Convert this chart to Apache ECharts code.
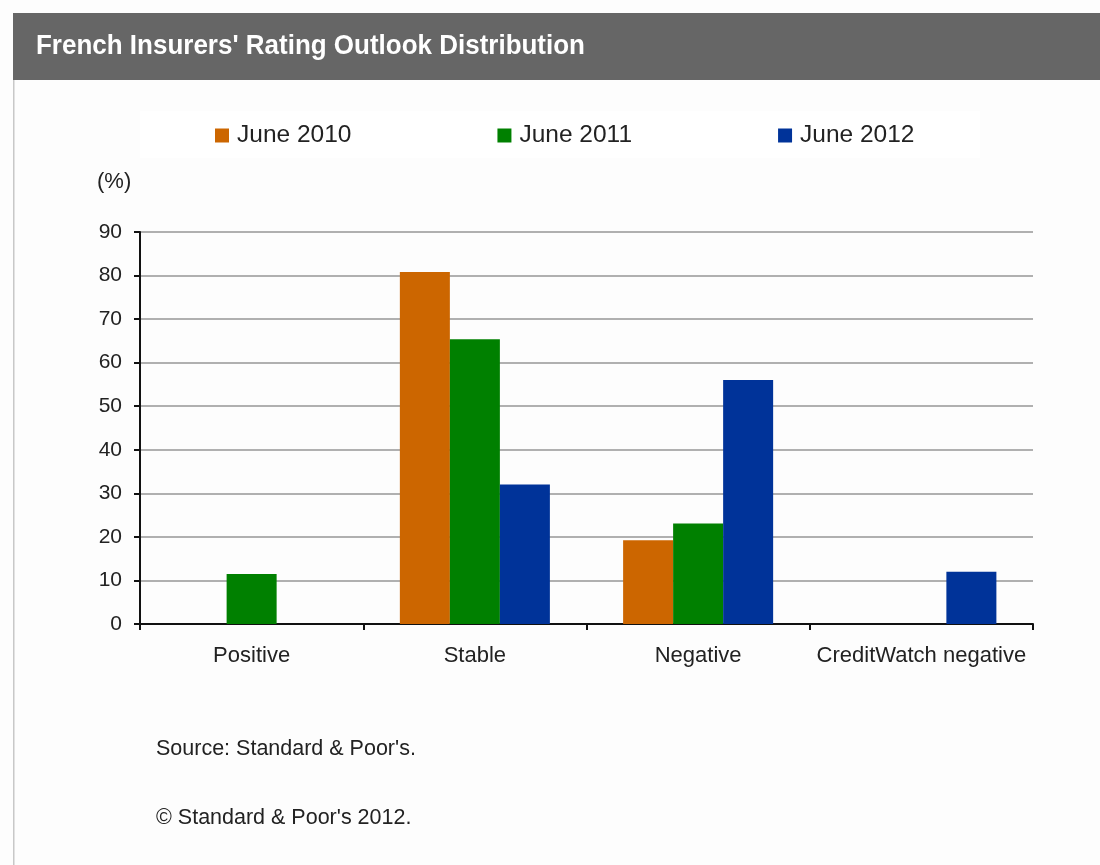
<!DOCTYPE html>
<html>
<head>
<meta charset="utf-8">
<script src="https://cdn.jsdelivr.net/npm/echarts@6/dist/echarts.min.js"></script>
<style>
html,body{margin:0;padding:0;background:#fdfdfd;}
#chart{width:1100px;height:865px;}
</style>
</head>
<body>
<div id="chart"></div>
<script>
const categories = ['Positive', 'Stable', 'Negative', 'CreditWatch negative'];
const june2010 = [null, 80.8, 19.2, null];
const june2011 = [11.5, 65.4, 23.1, null];
const june2012 = [null, 32, 56, 12];
const seriesNames = ['June 2010', 'June 2011', 'June 2012'];
const seriesColors = ['#CC6600', '#008000', '#003399'];
const yTicks = { min: 0, max: 90, interval: 10 };
const titleText = "French Insurers' Rating Outlook Distribution";
const unitText = '(%)';
const sourceText = "Source: Standard & Poor's.";
const copyrightText = "\u00A9 Standard & Poor's 2012.";

const FONT = "'Liberation Sans', Arial, sans-serif";
const chart = echarts.init(document.getElementById('chart'), null, { renderer: 'canvas' });
const dataSets = [june2010, june2011, june2012];

chart.setOption({
  backgroundColor: '#fdfdfd',
  animation: false,
  graphic: [
    { type: 'rect', shape: { x: 13, y: 13, width: 1100, height: 67 }, style: { fill: '#666666' }, z: 0 },
    { type: 'rect', shape: { x: 13, y: 80, width: 1.5, height: 800 }, style: { fill: '#c8c8c8' }, z: 0 },
    { type: 'rect', shape: { x: 140, y: 111, width: 840, height: 47 }, style: { fill: '#ffffff' }, z: 0 },
    { type: 'text', x: 36, y: 32, scaleX: 0.928, style: { text: titleText, fill: '#ffffff', font: "bold 28px " + FONT }, z: 5 },
    { type: 'text', left: 97, top: 171, style: { text: unitText, fill: '#222', font: '22px ' + FONT }, z: 5 },
    { type: 'text', left: 156, top: 738, style: { text: sourceText, fill: '#222', font: '21.5px ' + FONT }, z: 5 },
    { type: 'text', left: 156, top: 807, style: { text: copyrightText, fill: '#222', font: '21.5px ' + FONT }, z: 5 }
  ],
  legend: {
    left: 215, top: 123, padding: 0,
    itemWidth: 14, itemHeight: 14, itemGap: 146,
    icon: 'rect',
    textStyle: { fontFamily: FONT, fontSize: 24.5, color: '#222', padding: [0, 0, 0, 3] },
    data: seriesNames
  },
  grid: { left: 140, right: 67, top: 232, bottom: 241, containLabel: false },
  xAxis: {
    type: 'category',
    data: categories,
    axisLine: { lineStyle: { color: '#111', width: 2 } },
    axisTick: { show: true, length: 6, lineStyle: { color: '#111', width: 2 } },
    axisLabel: { interval: 0, fontFamily: FONT, fontSize: 22, color: '#222', margin: 21 }
  },
  yAxis: {
    type: 'value',
    min: yTicks.min, max: yTicks.max, interval: yTicks.interval,
    axisLine: { show: true, lineStyle: { color: '#111', width: 2 } },
    axisTick: { show: true, length: 6, lineStyle: { color: '#111', width: 2 } },
    axisLabel: { fontFamily: FONT, fontSize: 21, color: '#222', margin: 18 },
    splitLine: { lineStyle: { color: '#b0b0b0', width: 2 } }
  },
  series: seriesNames.map((name, i) => ({
    name: name,
    type: 'bar',
    data: dataSets[i],
    barGap: '0%',
    barCategoryGap: '32.8%',
    itemStyle: { color: seriesColors[i] }
  }))
});
</script>
</body>
</html>
